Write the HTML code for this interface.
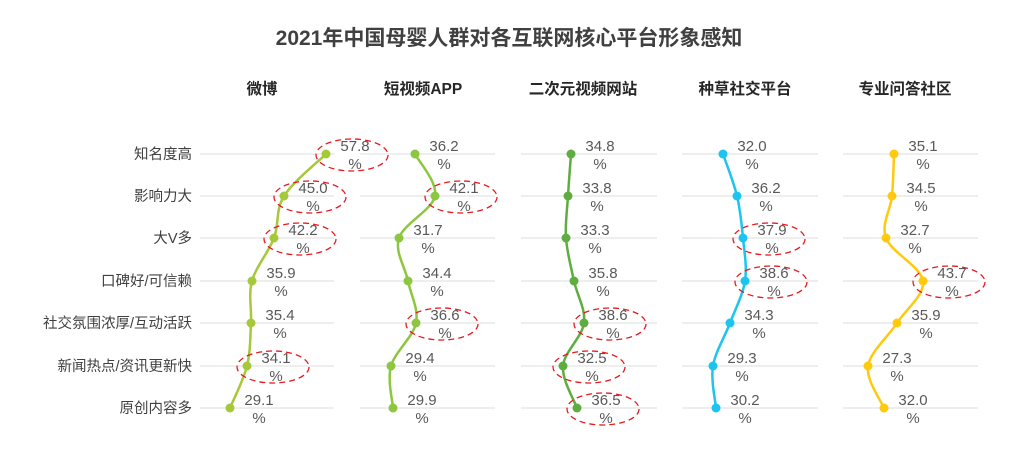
<!DOCTYPE html>
<html><head><meta charset="utf-8">
<style>
body{margin:0;background:#fff;}
svg text{font-family:"Liberation Sans","Noto Sans CJK SC",sans-serif;}
</style></head>
<body>
<svg id="s" width="1019" height="451" xmlns="http://www.w3.org/2000/svg">
<text x="509" y="45" text-anchor="middle" font-size="21" font-weight="bold" fill="#404040">2021年中国母婴人群对各互联网核心平台形象感知</text>
</svg>
<script>
var s=document.getElementById('s'),ns='http://www.w3.org/2000/svg';
function el(t,a,txt){var e=document.createElementNS(ns,t);for(var k in a)e.setAttribute(k,a[k]);if(txt!=null)e.textContent=txt;s.appendChild(e);return e;}
var ys=[154,196,238,281,323,366,408];
var cats=['知名度高','影响力大','大V多','口碑好/可信赖','社交氛围浓厚/互动活跃','新闻热点/资讯更新快','原创内容多'];
cats.forEach(function(c,i){el('text',{x:192,y:ys[i]+5,'text-anchor':'end','font-size':14.5,fill:'#404040'},c);});
var panels=[
{h:'微博',cx:262,x0:200,x1:334,col:'#a5c93a',v:['57.8','45.0','42.2','35.9','35.4','34.1','29.1'],x:[326,284,274,252,251,247,230],c:[0,1,2,5]},
{h:'短视频APP',cx:423,x0:360,x1:495,col:'#8dc63f',v:['36.2','42.1','31.7','34.4','36.6','29.4','29.9'],x:[415,435,399,408,416,391,393],c:[1,4]},
{h:'二次元视频网站',cx:583,x0:521,x1:657,col:'#5fad41',v:['34.8','33.8','33.3','35.8','38.6','32.5','36.5'],x:[571,568,566,574,584,563,577],c:[4,5,6]},
{h:'种草社交平台',cx:745,x0:682,x1:818,col:'#1dc4f0',v:['32.0','36.2','37.9','38.6','34.3','29.3','30.2'],x:[723,737,743,745,730,713,716],c:[2,3]},
{h:'专业问答社区',cx:905,x0:843,x1:978,col:'#ffc90e',v:['35.1','34.5','32.7','43.7','35.9','27.3','32.0'],x:[894,892,886,923,897,868,884],c:[3]}
];
panels.forEach(function(p){
 el('text',{x:p.cx,y:94,'text-anchor':'middle','font-size':15.5,'font-weight':'bold',fill:'#262626'},p.h);
 ys.forEach(function(y){el('line',{x1:p.x0,x2:p.x1,y1:y,y2:y,stroke:'#e3e3e3','stroke-width':1.2});});
 var pts=p.x.map(function(x,i){return [x,ys[i]];});
 var d='M'+pts[0][0]+','+pts[0][1];
 for(var i=0;i<pts.length-1;i++){
  var p0=pts[Math.max(0,i-1)],p1=pts[i],p2=pts[i+1],p3=pts[Math.min(pts.length-1,i+2)];
  var c1=[p1[0]+(p2[0]-p0[0])/6,p1[1]+(p2[1]-p0[1])/6],c2=[p2[0]-(p3[0]-p1[0])/6,p2[1]-(p3[1]-p1[1])/6];
  d+=' C'+c1+' '+c2+' '+p2;
 }
 el('path',{d:d,fill:'none',stroke:p.col,'stroke-width':2.5});
 pts.forEach(function(q,i){
  el('circle',{cx:q[0],cy:q[1],r:4.5,fill:p.col});
  var lx=q[0]+29;
  el('text',{x:lx,y:q[1]-3,'text-anchor':'middle','font-size':15,fill:'#595959'},p.v[i]);
  el('text',{x:lx,y:q[1]+15,'text-anchor':'middle','font-size':15,fill:'#595959'},'%');
  if(p.c.indexOf(i)>=0)el('ellipse',{cx:q[0]+26,cy:q[1]+1,rx:36,ry:16,fill:'none',stroke:'#e8191f','stroke-width':1.3,'stroke-dasharray':'6,4'});
 });
});
</script>
</body></html>
